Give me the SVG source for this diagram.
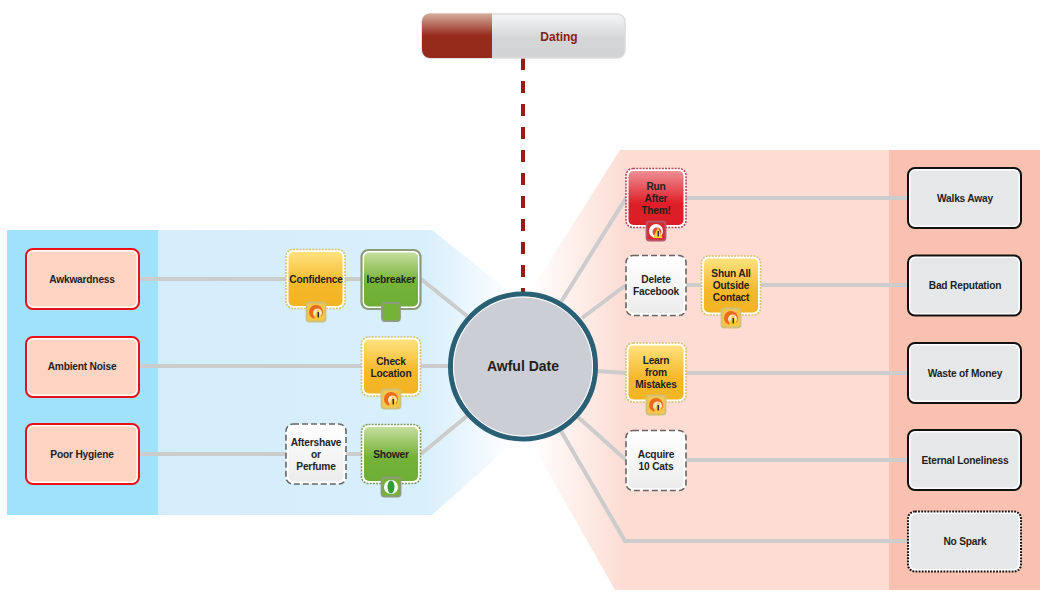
<svg xmlns="http://www.w3.org/2000/svg" xmlns:xlink="http://www.w3.org/1999/xlink" width="1057" height="600" viewBox="0 0 1057 600">
<style>
text{font-family:"Liberation Sans",Arial,sans-serif;font-weight:bold;font-size:10.2px;letter-spacing:-.2px;fill:#1f1f1f;text-anchor:middle;transform:translateY(1px)}
.c{fill:none;stroke:#cccccc;stroke-width:4}
.o{fill:#fff;stroke-width:1.600}
.yo{stroke:#d6c268;stroke-dasharray:2 1.2}
.go{stroke:#8d9a7c;stroke-width:2.200}
.gd{stroke:#809a5c;stroke-dasharray:2 1.2}
.ro{stroke:#b74560;stroke-dasharray:2 1.2}
.wo{stroke:#666;stroke-dasharray:6 3}
.y{fill:url(#gy)}.g{fill:url(#gg)}.r{fill:url(#gr)}.w{fill:url(#gw)}
.cause{fill:#fdd3c1}.co{fill:#fff;stroke:#ec0f18;stroke-width:2}
.eff{fill:#e6e7e9}.eo{fill:#fff;stroke:#111;stroke-width:2}
.ed{fill:#fff;stroke:#111;stroke-width:2;stroke-dasharray:1.800 1.300}
</style>
<defs>
<linearGradient id="gy" x1="0" y1="0" x2="0" y2="1"><stop offset="0" stop-color="#ffe27e"/><stop offset=".6" stop-color="#f5b82a"/><stop offset="1" stop-color="#f3b423"/></linearGradient>
<linearGradient id="gg" x1="0" y1="0" x2="0" y2="1"><stop offset="0" stop-color="#c6de9e"/><stop offset=".55" stop-color="#74b238"/><stop offset="1" stop-color="#6fae34"/></linearGradient>
<linearGradient id="gr" x1="0" y1="0" x2="0" y2="1"><stop offset="0" stop-color="#ef8f95"/><stop offset=".6" stop-color="#dd2028"/><stop offset="1" stop-color="#dc1d25"/></linearGradient>
<linearGradient id="gw" x1="0" y1="0" x2="0" y2="1"><stop offset="0" stop-color="#ffffff"/><stop offset="1" stop-color="#ececec"/></linearGradient>
<linearGradient id="gl" x1="158" y1="0" x2="515" y2="0" gradientUnits="userSpaceOnUse"><stop offset="0" stop-color="#d5edfb"/><stop offset=".75" stop-color="#d8effc"/><stop offset="1" stop-color="#ffffff"/></linearGradient>
<linearGradient id="gp" x1="530" y1="0" x2="625" y2="0" gradientUnits="userSpaceOnUse"><stop offset="0" stop-color="#ffffff"/><stop offset="1" stop-color="#fcdcd3"/></linearGradient>
<linearGradient id="gb" x1="0" y1="0" x2="0" y2="1"><stop offset="0" stop-color="#f5f7f7"/><stop offset=".55" stop-color="#d4d5d7"/><stop offset="1" stop-color="#d2d3d5"/></linearGradient>
<linearGradient id="gd" x1="0" y1="0" x2="0" y2="1"><stop offset="0" stop-color="#d6ad9c"/><stop offset=".5" stop-color="#962b1c"/><stop offset="1" stop-color="#962b1c"/></linearGradient>
<g id="by"><rect x="-9.500" y="-9.500" width="19" height="19" rx="3" fill="#f6c648" stroke="#cfc07c" stroke-width="1.800"/><circle r="7" fill="#ea6a1e"/><circle cx="1.500" cy="1" r="4.500" fill="#fbe6b8"/><path d="M2-3.500L6 7H-2Z" fill="#f8c63a"/><rect x="1.500" y="0" width="1.500" height="5.500" fill="#333"/></g>
<g id="br"><rect x="-9.500" y="-9.500" width="19" height="19" rx="3" fill="#dc2a30" stroke="#b5566a" stroke-width="1.800"/><circle r="7" fill="#fff"/><circle cx="1" cy="1" r="4.500" fill="#e34a3c"/><path d="M2-3.500L6.500 7H-3Z" fill="#f8d23a"/><rect x="1.500" y="0" width="1.500" height="5.500" fill="#333"/></g>
<g id="bg"><rect x="-9.500" y="-9.500" width="19" height="19" rx="3" fill="#74b238" stroke="#8d9a7c" stroke-width="1.800"/><circle r="7" fill="#fff"/><ellipse rx="3.500" ry="6.500" fill="#2f9e2f"/></g>
</defs>

<g id="zones">
<rect x="7" y="230" width="151" height="285" fill="#a0e2fb"/>
<path d="M158 230H432L515 296V441L432 515H158Z" fill="url(#gl)"/>
<path d="M620 150H889V590H615L530 440V292Z" fill="url(#gp)"/>
<rect x="889" y="150" width="151" height="440" fill="#fac1b1"/>
</g>

<g id="connectors">
<path class="c" d="M139 279H286M345 279H361M421 279L467 316"/>
<path class="c" d="M139 366H361M421 366H450"/>
<path class="c" d="M139 454H286M346 454H361M421 454L467 416"/>
<path class="c" d="M561 302L626 198H908"/>
<path class="c" d="M582 318L626 285M686 285H701M761 285H908"/>
<path class="c" d="M597 371L626 373H908"/>
<path class="c" d="M578 417L626 460H908"/>
<path class="c" d="M561 431L625 541H908"/>
<path d="M523 58V292" fill="none" stroke="#9a1b12" stroke-width="4" stroke-dasharray="12 11"/>
</g>

<g id="central"><circle cx="523" cy="366.500" r="72.500" fill="#cbced5" stroke="#2a6076" stroke-width="5"/><circle cx="523" cy="366.500" r="69.500" fill="none" stroke="#fff" stroke-width="1"/><text x="523" y="371" style="font-size:14px;letter-spacing:0;transform:none">Awful Date</text></g>

<g id="dating">
<rect x="422" y="14" width="203" height="44" rx="8" fill="url(#gb)" stroke="#dcdcdc" stroke-width="1.500"/>
<path d="M492 13.500H430A8 8 0 0 0 422 21.500V50A8 8 0 0 0 430 58H492Z" fill="url(#gd)"/>
<text x="559" y="40" style="font-size:12px;letter-spacing:0;fill:#8a1c14">Dating</text>
</g>

<g id="awkwardness"><rect class="co" x="26" y="249" width="113" height="60" rx="7"/><rect class="cause" x="28.500" y="251.500" width="108" height="55" rx="5"/><text x="82" y="282">Awkwardness</text></g>
<g id="ambient-noise"><rect class="co" x="26" y="337" width="113" height="60" rx="7"/><rect class="cause" x="28.500" y="339.500" width="108" height="55" rx="5"/><text x="82" y="369">Ambient Noise</text></g>
<g id="poor-hygiene"><rect class="co" x="26" y="424" width="113" height="60" rx="7"/><rect class="cause" x="28.500" y="426.500" width="108" height="55" rx="5"/><text x="82" y="457">Poor Hygiene</text></g>

<g id="confidence"><rect class="o yo" x="286" y="249.500" width="59" height="59" rx="7"/><rect class="y" x="288.500" y="252" width="54" height="54" rx="5"/><text x="316" y="282">Confidence</text><use xlink:href="#by" href="#by" x="316" y="312"/></g>
<g id="icebreaker"><rect class="o go" x="361.500" y="250" width="59" height="59" rx="7"/><rect class="g" x="364" y="252.500" width="54" height="54" rx="5"/><text x="391" y="282">Icebreaker</text><rect x="382" y="303" width="18" height="18" rx="3" fill="#74b238" stroke="#8d9a7c" stroke-width="1.800"/></g>
<g id="check-location"><rect class="o yo" x="361.500" y="337" width="59" height="59" rx="7"/><rect class="y" x="364" y="339.500" width="54" height="54" rx="5"/><text x="391" y="363.500">Check</text><text x="391" y="375.500">Location</text><use xlink:href="#by" href="#by" x="391" y="399"/></g>
<g id="aftershave"><rect class="o wo" x="286" y="424" width="60" height="60" rx="7"/><rect class="w" x="288.500" y="426.500" width="55" height="55" rx="5"/><text x="316" y="445">Aftershave</text><text x="316" y="457">or</text><text x="316" y="469">Perfume</text></g>
<g id="shower"><rect class="o gd" x="361.500" y="424.500" width="59" height="59" rx="7"/><rect class="g" x="364" y="427" width="54" height="54" rx="5"/><text x="391" y="457">Shower</text><use xlink:href="#bg" href="#bg" x="391" y="487"/></g>

<g id="run-after-them"><rect class="o ro" x="626" y="168.500" width="60" height="59" rx="7"/><rect class="r" x="628.500" y="171" width="55" height="54" rx="5"/><text x="656" y="189">Run</text><text x="656" y="201">After</text><text x="656" y="213">Them!</text><use xlink:href="#br" href="#br" x="656" y="231"/></g>
<g id="delete-facebook"><rect class="o wo" x="626" y="255.500" width="60" height="60" rx="7"/><rect class="w" x="628.500" y="258" width="55" height="55" rx="5"/><text x="656" y="282">Delete</text><text x="656" y="294">Facebook</text></g>
<g id="shun-all"><rect class="o yo" x="701.500" y="256" width="59" height="59" rx="7"/><rect class="y" x="704" y="258.500" width="54" height="54" rx="5"/><text x="731" y="276">Shun All</text><text x="731" y="288">Outside</text><text x="731" y="300">Contact</text><use xlink:href="#by" href="#by" x="731" y="318"/></g>
<g id="learn"><rect class="o yo" x="626" y="343" width="60" height="59" rx="7"/><rect class="y" x="628.500" y="345.500" width="55" height="54" rx="5"/><text x="656" y="363">Learn</text><text x="656" y="375">from</text><text x="656" y="387">Mistakes</text><use xlink:href="#by" href="#by" x="656" y="405"/></g>
<g id="acquire"><rect class="o wo" x="626" y="430.500" width="60" height="60" rx="7"/><rect class="w" x="628.500" y="433" width="55" height="55" rx="5"/><text x="656" y="457">Acquire</text><text x="656" y="469">10 Cats</text></g>

<g id="walks-away"><rect class="eo" x="908" y="168" width="113" height="60" rx="7"/><rect class="eff" x="910.500" y="170.500" width="108" height="55" rx="5"/><text x="965" y="201">Walks Away</text></g>
<g id="bad-reputation"><rect class="eo" x="908" y="255.500" width="113" height="60" rx="7"/><rect class="eff" x="910.500" y="258" width="108" height="55" rx="5"/><text x="965" y="288">Bad Reputation</text></g>
<g id="waste-of-money"><rect class="eo" x="908" y="343" width="113" height="60" rx="7"/><rect class="eff" x="910.500" y="345.500" width="108" height="55" rx="5"/><text x="965" y="376">Waste of Money</text></g>
<g id="eternal-loneliness"><rect class="eo" x="908" y="430" width="113" height="60" rx="7"/><rect class="eff" x="910.500" y="432.500" width="108" height="55" rx="5"/><text x="965" y="463">Eternal Loneliness</text></g>
<g id="no-spark"><rect class="ed" x="908" y="511.500" width="113" height="60" rx="7"/><rect class="eff" x="910.500" y="514" width="108" height="55" rx="5"/><text x="965" y="544">No Spark</text></g>
</svg>
